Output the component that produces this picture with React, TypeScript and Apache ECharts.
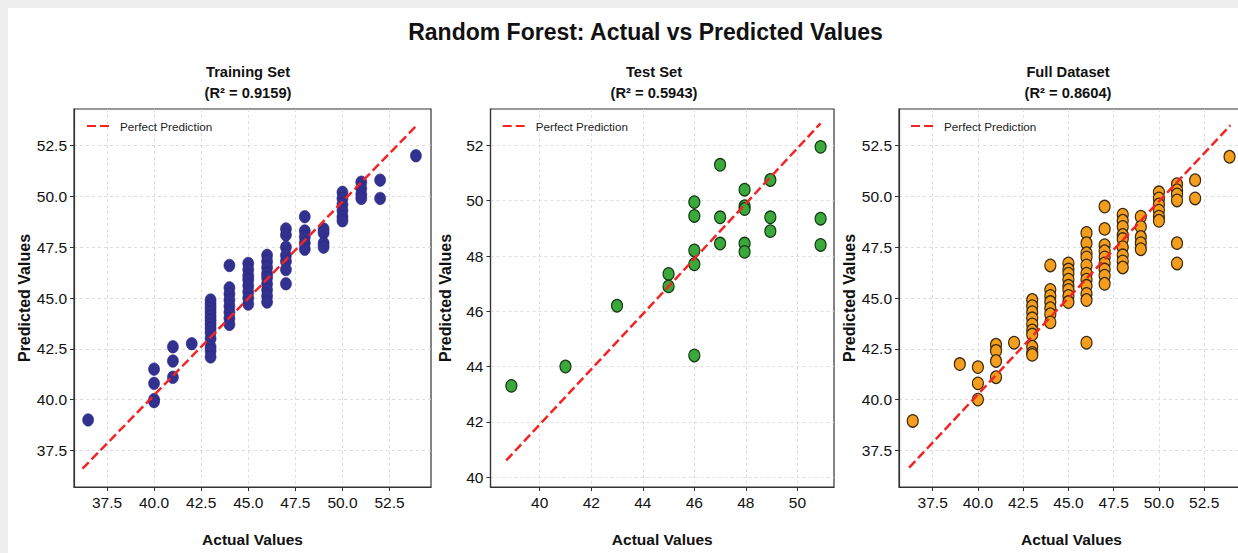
import React, { useEffect, useRef } from "react";
import * as echarts from "echarts";

// ---------- data ----------
const trainActual = [
  36.5,
  40, 40, 40, 40,
  41, 41, 41,
  42,
  43, 43, 43, 43, 43, 43, 43, 43, 43, 43, 43, 43, 43,
  44, 44, 44, 44, 44, 44, 44, 44,
  45, 45, 45, 45, 45, 45, 45, 45,
  46, 46, 46, 46, 46, 46, 46, 46, 46,
  47, 47, 47, 47, 47, 47, 47,
  48, 48, 48, 48, 48,
  49, 49, 49, 49,
  50, 50, 50, 50, 50, 50,
  51, 51, 51, 51,
  52, 52,
  53.9,
];
const trainPredicted = [
  39.0,
  41.5, 40.8, 40.0, 39.9,
  42.6, 41.9, 41.1,
  42.75,
  44.9, 44.7, 44.5, 44.3, 44.1, 43.9, 43.7, 43.5, 43.3, 43.0, 42.6, 42.4, 42.1,
  46.6, 45.5, 45.2, 44.9, 44.6, 44.3, 44.0, 43.7,
  46.7, 46.4, 46.1, 45.9, 45.6, 45.3, 45.0, 44.7,
  47.1, 46.8, 46.5, 46.2, 46.0, 45.7, 45.4, 45.1, 44.8,
  48.4, 48.1, 47.5, 47.1, 46.8, 46.4, 45.7,
  49.0, 48.3, 48.0, 47.7, 47.4,
  48.4, 48.2, 47.7, 47.5,
  50.2, 49.9, 49.6, 49.3, 49.0, 48.8,
  50.7, 50.4, 50.1, 49.9,
  50.8, 49.9,
  52.0,
];

const testActual = [
  38.9, 41, 43, 45, 45,
  46, 46, 46, 46, 46,
  47, 47, 47,
  47.95, 47.95, 47.95, 47.95, 47.95,
  48.95, 48.95, 48.95,
  50.9, 50.9, 50.9,
];
const testPredicted = [
  43.3, 44.0, 46.2, 47.35, 46.9,
  49.95, 49.45, 48.2, 47.7, 44.4,
  51.3, 49.4, 48.45,
  50.4, 49.8, 49.7, 48.45, 48.15,
  50.75, 49.4, 48.9,
  51.95, 49.35, 48.4,
];

const fullActual = [
  36.4,
  39,
  40, 40, 40,
  41, 41, 41, 41,
  42,
  43, 43, 43, 43, 43, 43, 43, 43, 43, 43,
  44, 44, 44, 44, 44, 44, 44,
  45, 45, 45, 45, 45, 45, 45, 45,
  46, 46, 46, 46, 46, 46, 46, 46, 46, 46, 46,
  47, 47, 47, 47, 47, 47, 47, 47, 47,
  48, 48, 48, 48, 48, 48, 48, 48, 48,
  49, 49, 49, 49, 49,
  50, 50, 50, 50, 50, 50,
  51, 51, 51, 51, 51, 51,
  52, 52,
  53.9,
];
const fullPredicted = [
  38.95,
  41.75,
  41.6, 40.8, 40.0,
  42.7, 42.4, 41.9, 41.1,
  42.8,
  44.9, 44.6, 44.3, 44.0, 43.7, 43.4, 43.2, 42.6, 42.3, 42.2,
  46.6, 45.4, 45.1, 44.8, 44.5, 44.2, 43.8,
  46.7, 46.4, 46.2, 45.9, 45.6, 45.4, 45.1, 44.8,
  48.2, 47.7, 47.2, 47.0, 46.6, 46.2, 45.9, 45.6, 45.2, 44.9, 42.8,
  49.5, 48.4, 47.6, 47.3, 47.0, 46.7, 46.4, 46.1, 45.7,
  49.1, 48.8, 48.5, 48.1, 47.9, 47.5, 47.1, 46.8, 46.5,
  49.0, 48.5, 48.0, 47.7, 47.4,
  50.2, 49.9, 49.6, 49.3, 49.0, 48.8,
  50.6, 50.3, 50.1, 49.8, 47.7, 46.7,
  50.8, 49.9,
  51.95,
];

// "Perfect Prediction" reference line end points, as drawn in each panel
const trainLineX = [36.2, 53.95];
const trainLineY = [36.6, 53.5];
const testLineX = [38.7, 50.9];
const testLineY = [40.6, 52.8];
const fullLineX = [36.2, 53.95];
const fullLineY = [36.65, 53.5];

// tick labels
const ticks25 = [37.5, 40.0, 42.5, 45.0, 47.5, 50.0, 52.5];
const testXTicks = [40, 42, 44, 46, 48, 50];
const testYTicks = [40, 42, 44, 46, 48, 50, 52];

const panelTitles = ["Training Set\n(R² = 0.9159)", "Test Set\n(R² = 0.5943)", "Full Dataset\n(R² = 0.8604)"];
const mainTitle = "Random Forest: Actual vs Predicted Values";
const lineName = "Perfect Prediction";

const FONT = "'Liberation Sans', Arial, Helvetica, sans-serif";

function pairs(xs: number[], ys: number[]) {
  return xs.map((x, i) => [x, ys[i]]);
}

export default function App() {
  const ref = useRef<HTMLDivElement>(null);

  useEffect(() => {
    document.body.style.background = "#eeeeee";
    document.body.style.margin = "8px 0 0 8px";
    document.body.style.overflow = "hidden";
    if (!ref.current) return;
    const chart = echarts.init(ref.current, undefined, { renderer: "svg" });

    const grids = [
      { left: 66, top: 101, width: 357, height: 378 },
      { left: 482.5, top: 101, width: 343.5, height: 378 },
      { left: 891, top: 101, width: 345, height: 378 },
    ];
    const xRanges = [
      [35.75, 54.7],
      [38.09, 51.42],
      [35.64, 54.7],
    ];
    const yRanges = [
      [35.7, 54.3],
      [39.64, 53.32],
      [35.7, 54.3],
    ];
    const xTicks = [ticks25, testXTicks, ticks25];
    const yTicks = [ticks25, testYTicks, ticks25];
    const decimals = [1, 0, 1];
    const titleX = [240, 646, 1060];
    const legendLeft = [73, 488.7, 897];

    const axisCommon = (i: number, vals: number[], range: number[]) => ({
      gridIndex: i,
      type: "value",
      min: range[0],
      max: range[1],
      axisLine: { show: true, onZero: false, lineStyle: { color: "#333", width: 1.2 } },
      axisTick: { show: true, length: 4, customValues: vals, lineStyle: { color: "#333", width: 1 } },
      axisLabel: {
        customValues: vals,
        fontSize: 15.5,
        color: "#111",
        fontFamily: FONT,
        margin: 7,
        formatter: (v: number) => v.toFixed(decimals[i]),
      },
      splitLine: { show: true, lineStyle: { color: "#d6d6d6", width: 0.8, type: [3, 3] } },
    });

    const xAxis = grids.map((_, i) => ({
      ...axisCommon(i, xTicks[i], xRanges[i]),
      name: "Actual Values",
      nameLocation: "middle",
      nameGap: 44,
      nameTextStyle: { fontSize: 15.5, fontWeight: "bold", color: "#111", fontFamily: FONT },
    }));
    const yAxis = grids.map((_, i) => ({
      ...axisCommon(i, yTicks[i], yRanges[i]),
      name: "Predicted Values",
      nameLocation: "middle",
      nameGap: 37,
      nameTextStyle: { fontSize: 16, fontWeight: "bold", color: "#111", fontFamily: FONT },
    }));

    const scatterStyles = [
      { color: "#33318f", borderColor: "#28267f", borderWidth: 0.6, opacity: 1 },
      { color: "#3aa83a", borderColor: "#143a14", borderWidth: 1.2, opacity: 1 },
      { color: "#f59e1e", borderColor: "#3a2a0e", borderWidth: 1.2, opacity: 1 },
    ];
    const scatterData = [
      pairs(trainActual, trainPredicted),
      pairs(testActual, testPredicted),
      pairs(fullActual, fullPredicted),
    ];
    const lineData = [
      pairs(trainLineX, trainLineY),
      pairs(testLineX, testLineY),
      pairs(fullLineX, fullLineY),
    ];

    const series: any[] = [];
    grids.forEach((_, i) => {
      series.push({
        type: "scatter",
        name: "points" + i,
        xAxisIndex: i,
        yAxisIndex: i,
        data: scatterData[i],
        symbol: "circle",
        symbolSize: [11, 12.5],
        itemStyle: scatterStyles[i],
        z: 2,
      });
      series.push({
        type: "line",
        name: lineName,
        xAxisIndex: i,
        yAxisIndex: i,
        data: lineData[i],
        symbol: "none",
        itemStyle: { color: "#f42424" },
        lineStyle: { color: "#f42424", width: 2.5, type: [9, 4] },
        z: 3,
      });
    });

    const option: any = {
      animation: false,
      backgroundColor: "#ffffff",
      title: [
        {
          text: mainTitle,
          left: 637.5,
          top: 12,
          padding: 0,
          textAlign: "center",
          textStyle: { fontSize: 23, fontWeight: "bold", color: "#111", fontFamily: FONT },
        },
        ...panelTitles.map((t, i) => ({
          text: t,
          left: titleX[i],
          top: 53,
          padding: 0,
          textAlign: "center",
          textStyle: { fontSize: 14.7, fontWeight: "bold", color: "#111", fontFamily: FONT, lineHeight: 21.4 },
        })),
      ],
      legend: legendLeft.map((l) => ({
        data: [lineName],
        left: l,
        top: 107,
        itemWidth: 25,
        itemHeight: 14,
        selectedMode: false,
        itemStyle: { color: "rgba(0,0,0,0)", borderWidth: 0, opacity: 0 },
        textStyle: { fontSize: 11.7, color: "#222", fontFamily: FONT, padding: [0, 0, 0, 3] },
      })),
      grid: grids.map((g) => ({
        ...g,
        show: true,
        borderColor: "#333",
        borderWidth: 1.2,
        backgroundColor: "#ffffff",
        containLabel: false,
        outerBoundsMode: "none",
      })),
      xAxis,
      yAxis,
      series,
    };

    chart.setOption(option);
    return () => chart.dispose();
  }, []);

  return <div ref={ref} style={{ width: 1230, height: 545, background: "#ffffff" }} />;
}
